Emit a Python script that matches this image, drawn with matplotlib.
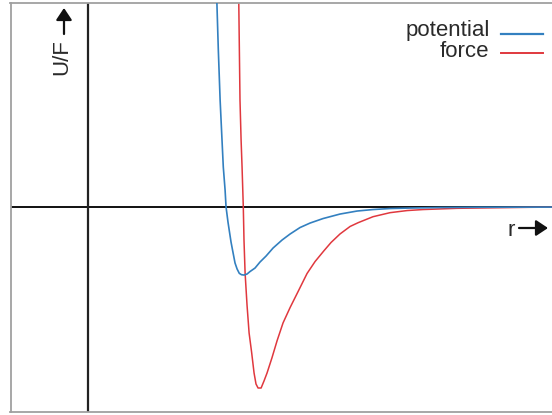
import matplotlib
matplotlib.use("Agg")
import matplotlib.pyplot as plt
from matplotlib.lines import Line2D

# ---- data ----
r_potential = [0.925, 0.933, 0.944, 0.957, 0.969, 0.980, 0.993, 1.000, 1.014, 1.025,
               1.036, 1.047, 1.065, 1.080, 1.096, 1.112, 1.130, 1.152, 1.174, 1.210,
               1.246, 1.290, 1.341, 1.406, 1.464, 1.536, 1.609, 1.703, 1.826, 1.949,
               2.065, 2.188, 2.333, 2.551, 2.841, 3.362]
potential = [3.477, 3.037, 2.303, 1.570, 1.056, 0.587, 0.249, 0.000, -0.220, -0.367,
             -0.513, -0.631, -0.821, -0.909, -0.973, -0.993, -0.998, -0.983, -0.946, -0.895,
             -0.807, -0.719, -0.601, -0.484, -0.396, -0.301, -0.235, -0.169, -0.103, -0.059,
             -0.037, -0.022, -0.015, -0.007, -0.003, -0.001]

r_force = [1.089, 1.092, 1.101, 1.109, 1.116, 1.125, 1.130, 1.138, 1.152, 1.167,
           1.185, 1.203, 1.217, 1.232, 1.254, 1.275, 1.297, 1.333, 1.370, 1.413,
           1.464, 1.522, 1.587, 1.645, 1.710, 1.761, 1.826, 1.899, 1.957, 2.065,
           2.188, 2.312, 2.428, 2.674, 2.913, 3.203, 3.362]
force = [3.477, 3.037, 1.570, 0.983, 0.587, 0.000, -0.484, -0.968, -1.438, -1.848,
         -2.127, -2.435, -2.596, -2.655, -2.655, -2.552, -2.435, -2.210, -1.960, -1.700,
         -1.475, -1.240, -0.975, -0.800, -0.640, -0.520, -0.395, -0.285, -0.230, -0.142,
         -0.083, -0.052, -0.037, -0.019, -0.012, -0.004, -0.0015]

labels = ["potential", "force"]
axis_labels = ["U/F", "r"]

BLUE = "#3380c0"
RED = "#e0383e"
W, H = 552, 415

plt.rcParams['font.family'] = ['Liberation Sans', 'DejaVu Sans']

fig = plt.figure(figsize=(W / 100, H / 100), dpi=100)
ax = fig.add_axes([10.5 / W, 3 / H, 1 - 10.5 / W, 409 / H])
ax.set_xlim(-0.562, 3.362)
ax.set_ylim(-3.007, 2.993)
ax.set_xticks([])
ax.set_yticks([])
for side in ["left", "top", "bottom"]:
    ax.spines[side].set_color("#a0a0a0")
    ax.spines[side].set_linewidth(1.3)
ax.spines["right"].set_visible(False)

ax.axhline(0, color="#111111", lw=1.4, zorder=1)
ax.axvline(0, color="#222222", lw=1.6, zorder=1)

ax.plot(r_potential, potential, color=BLUE, lw=1.2, zorder=3)
ax.plot(r_force, force, color=RED, lw=1.1, zorder=2)

# legend (text right, line to the right)
fs = 16
fig.text(490 / W, 1 - 36 / H, labels[0], ha="right", va="baseline", fontsize=fs, color="#2a2a2a")
fig.text(489 / W, 1 - 57 / H, labels[1], ha="right", va="baseline", fontsize=fs, color="#2a2a2a")
fig.add_artist(Line2D([501 / W, 543 / W], [1 - 34 / H] * 2, color=BLUE, lw=1.6))
fig.add_artist(Line2D([501 / W, 543 / W], [1 - 53 / H] * 2, color=RED, lw=1.4))

# axis labels with arrows
fig.text(61.5 / W, 1 - 57.5 / H, axis_labels[0], rotation=90, ha="center", va="center",
         fontsize=fs, color="#2a2a2a")
ax.annotate("", xy=(64, H - 8), xytext=(64, H - 34), xycoords="figure pixels",
            textcoords="figure pixels",
            arrowprops=dict(arrowstyle="-|>,head_length=0.6,head_width=0.4", lw=1.6,
                            color="#111111", mutation_scale=12, shrinkA=0, shrinkB=0))
fig.text(515 / W, 1 - 235.5 / H, axis_labels[1], ha="right", va="baseline", fontsize=fs,
         color="#2a2a2a")
ax.annotate("", xy=(548, H - 228), xytext=(519, H - 228), xycoords="figure pixels",
            textcoords="figure pixels",
            arrowprops=dict(arrowstyle="-|>,head_length=0.6,head_width=0.4", lw=1.6,
                            color="#111111", mutation_scale=12, shrinkA=0, shrinkB=0))

fig.savefig("out.png", dpi=100)
